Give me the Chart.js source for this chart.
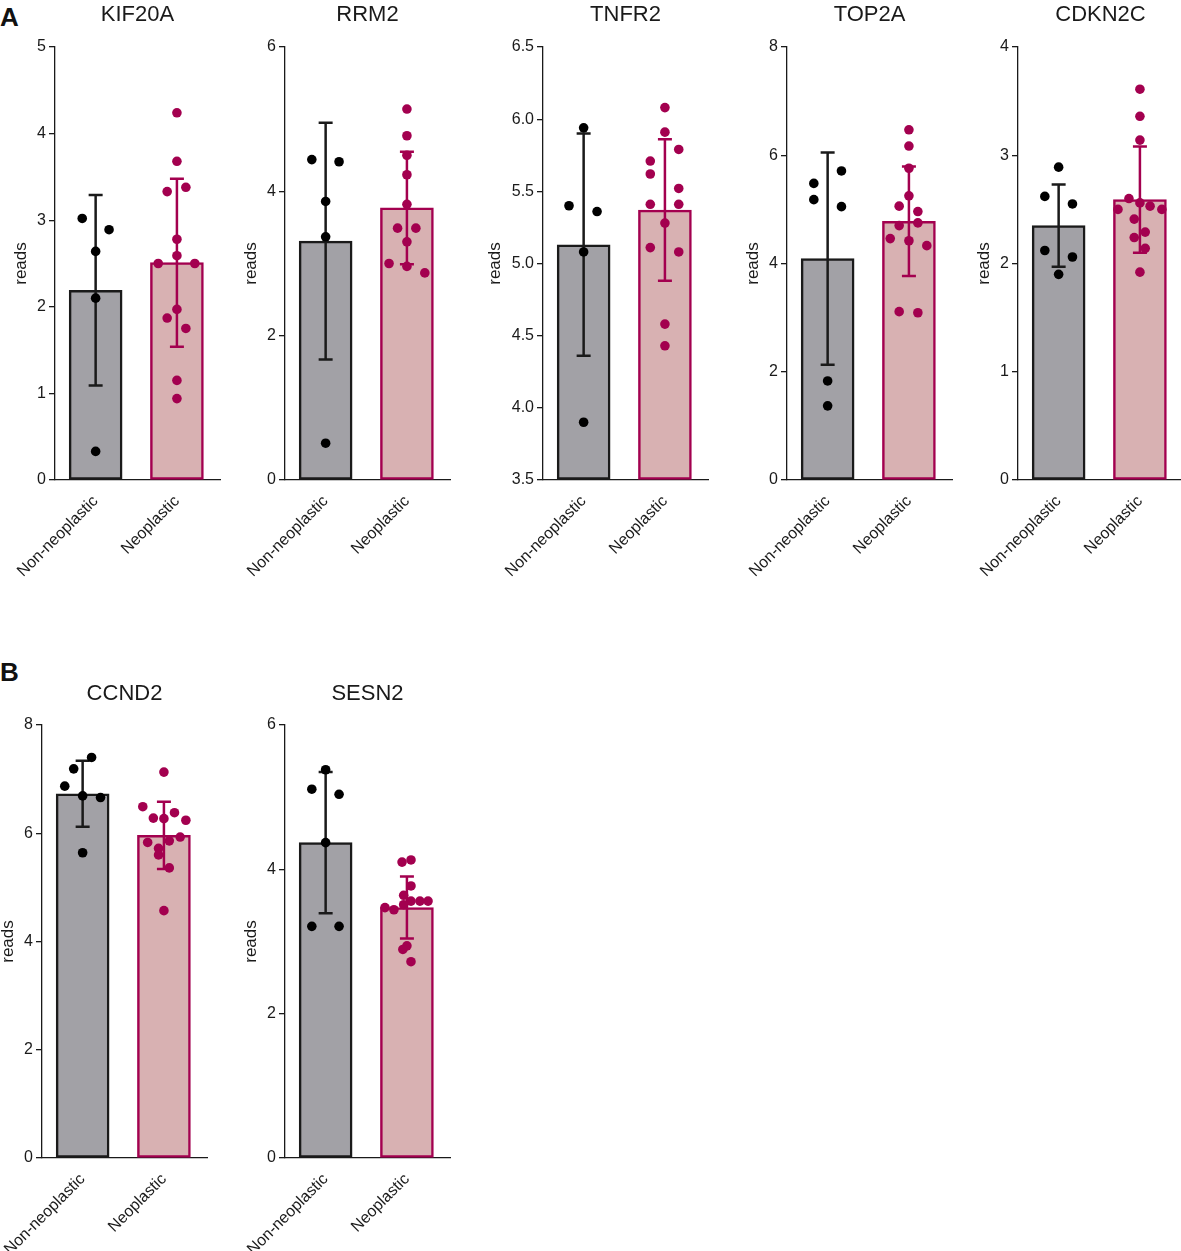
<!DOCTYPE html>
<html>
<head>
<meta charset="utf-8">
<script src="https://cdn.jsdelivr.net/npm/chart.js@4.4.1/dist/chart.umd.min.js"></script>
<style>
  body { margin: 0; background: #fff; width: 1181px; height: 1251px; position: relative; overflow: hidden;
         font-family: 'Liberation Sans', Arial, sans-serif; }
  canvas { position: absolute; }
  .tag { position: absolute; font-weight: bold; font-size: 26px; line-height: 26px; color: #111; }
</style>
</head>
<body>
<div class="tag" style="left:0px;top:4px">A</div>
<div class="tag" style="left:0px;top:659px">B</div>
<script>
// ---- data ----
const groups = ['Non-neoplastic', 'Neoplastic'];
const genes = ['KIF20A', 'RRM2', 'TNFR2', 'TOP2A', 'CDKN2C', 'CCND2', 'SESN2'];

// bar heights (group means) and standard deviations
const meanKIF20A = [2.19, 2.51], sdKIF20A = [1.10, 0.97];
const meanRRM2   = [3.31, 3.77], sdRRM2   = [1.64, 0.78];
const meanTNFR2  = [5.13, 5.37], sdTNFR2  = [0.77, 0.49];
const meanTOP2A  = [4.09, 4.78], sdTOP2A  = [1.96, 1.01];
const meanCDKN2C = [2.35, 2.59], sdCDKN2C = [0.38, 0.49];
const meanCCND2  = [6.73, 5.96], sdCCND2  = [0.61, 0.62];
const meanSESN2  = [4.37, 3.47], sdSESN2  = [0.98, 0.43];

// single samples, non-neoplastic group
const nonKIF20A = [3.02, 2.89, 2.64, 2.10, 0.33];
const nonRRM2   = [4.44, 4.41, 3.86, 3.37, 0.51];
const nonTNFR2  = [5.94, 5.40, 5.36, 5.08, 3.90];
const nonTOP2A  = [5.71, 5.48, 5.18, 5.05, 1.83, 1.37];
const nonCDKN2C = [2.89, 2.62, 2.55, 2.12, 2.06, 1.90];
const nonCCND2  = [7.40, 7.19, 6.87, 6.69, 6.66, 5.64];
const nonSESN2  = [5.38, 5.11, 5.04, 4.37, 3.21, 3.21];

// single samples, neoplastic group
const neoKIF20A = [4.24, 3.68, 3.38, 3.33, 2.78, 2.59, 2.50, 2.50, 1.97, 1.87, 1.75, 1.15, 0.94];
const neoRRM2   = [5.14, 4.77, 4.50, 4.23, 3.82, 3.49, 3.49, 3.30, 3.00, 2.96, 2.87];
const neoTNFR2  = [6.08, 5.91, 5.79, 5.71, 5.62, 5.52, 5.41, 5.41, 5.28, 5.11, 5.08, 4.58, 4.43];
const neoTOP2A  = [6.47, 6.17, 5.76, 5.25, 5.06, 4.96, 4.75, 4.70, 4.46, 4.42, 4.33, 3.11, 3.09];
const neoCDKN2C = [3.61, 3.36, 3.14, 2.60, 2.56, 2.53, 2.50, 2.50, 2.41, 2.29, 2.24, 2.14, 1.92];
const neoCCND2  = [7.13, 6.49, 6.38, 6.28, 6.27, 6.24, 5.93, 5.86, 5.83, 5.72, 5.60, 5.36, 4.57];
const neoSESN2  = [4.13, 4.10, 3.77, 3.64, 3.56, 3.56, 3.56, 3.51, 3.47, 3.44, 2.94, 2.89, 2.72];

// swarm lane of each dot, in category units away from its bar centre
const nonLaneKIF20A = [-0.165, 0.165, 0, 0, 0];
const nonLaneRRM2   = [-0.17, 0.165, 0, 0, 0];
const nonLaneTNFR2  = [0, -0.18, 0.165, 0, 0];
const nonLaneTOP2A  = [0.17, -0.17, -0.17, 0.17, 0, 0];
const nonLaneCDKN2C = [0, -0.17, 0.17, -0.17, 0.17, 0];
const nonLaneCCND2  = [0.11, -0.11, -0.22, 0, 0.22, 0];
const nonLaneSESN2  = [0, -0.17, 0.165, 0, -0.17, 0.165];

const neoLaneKIF20A = [0, 0, 0.11, -0.12, 0, 0, -0.23, 0.22, 0, -0.12, 0.11, 0, 0];
const neoLaneRRM2   = [0, 0, 0, 0, 0, -0.115, 0.11, 0, -0.22, 0, 0.22];
const neoLaneTNFR2  = [0, 0, 0.17, -0.18, -0.18, 0.17, -0.18, 0.17, 0, -0.18, 0.17, 0, 0];
const neoLaneTOP2A  = [0, 0, 0, 0, -0.12, 0.11, 0.11, -0.12, -0.23, 0, 0.22, -0.12, 0.11];
const neoLaneCDKN2C = [0, 0, 0, -0.135, 0, 0.125, -0.27, 0.27, -0.07, 0.065, -0.07, 0.065, 0];
const neoLaneCCND2  = [0, -0.26, 0.13, -0.13, 0, 0.27, 0.2, 0.066, -0.2, -0.066, -0.066, 0.066, 0];
const neoLaneSESN2  = [0.05, -0.06, 0.05, -0.04, 0.05, 0.16, 0.26, -0.04, -0.27, -0.16, 0, -0.05, 0.05];

// y axis ranges and tick steps
const yMin  = [0, 0, 3.5, 0, 0, 0, 0];
const yMax  = [5, 6, 6.5, 8, 4, 8, 6];
const yStep = [1, 2, 0.5, 2, 1, 2, 2];

const means = [meanKIF20A, meanRRM2, meanTNFR2, meanTOP2A, meanCDKN2C, meanCCND2, meanSESN2];
const sds   = [sdKIF20A, sdRRM2, sdTNFR2, sdTOP2A, sdCDKN2C, sdCCND2, sdSESN2];
const nons  = [nonKIF20A, nonRRM2, nonTNFR2, nonTOP2A, nonCDKN2C, nonCCND2, nonSESN2];
const neos  = [neoKIF20A, neoRRM2, neoTNFR2, neoTOP2A, neoCDKN2C, neoCCND2, neoSESN2];
const nonLanes = [nonLaneKIF20A, nonLaneRRM2, nonLaneTNFR2, nonLaneTOP2A, nonLaneCDKN2C, nonLaneCCND2, nonLaneSESN2];
const neoLanes = [neoLaneKIF20A, neoLaneRRM2, neoLaneTNFR2, neoLaneTOP2A, neoLaneCDKN2C, neoLaneCCND2, neoLaneSESN2];

// ---- look ----
const FONT = "'Liberation Sans', Arial, sans-serif";
const INK = '#1a1a1a';
const GREY = '#a2a1a6', PINK = '#d8b1b2', WINE = '#a3004f';
const YW = 55;   // room left of each y axis line for ticks and the axis title

// where each panel's y axis sits on the page
const axisX = [55, 285, 543, 787, 1018, 42, 285];
const panelRow = [0, 0, 0, 0, 0, 1, 1];
const rows = [
  {top: 0,   h: 580, plotTop: 47, xh: 100, titleY: 21},
  {top: 660, h: 591, plotTop: 65, xh: 93,  titleY: 40}
];
const dottedBase = [false, true, false, false, false, true, true];

function decor(i) {
  const R = rows[panelRow[i]];
  return {
    id: 'decor' + i,
    afterDatasetDraw(chart, args) {
      if (args.meta.type !== 'bar') return;
      const {ctx, scales: {x, y}} = chart;
      ctx.save();
      ctx.lineWidth = 2.5;
      means[i].forEach((m, k) => {
        const cx = x.getPixelForValue(k);
        const hi = y.getPixelForValue(m + sds[i][k]);
        const lo = y.getPixelForValue(m - sds[i][k]);
        ctx.strokeStyle = k ? WINE : INK;
        ctx.beginPath();
        ctx.moveTo(cx, hi); ctx.lineTo(cx, lo);
        ctx.moveTo(cx - 7, hi); ctx.lineTo(cx + 7, hi);
        ctx.moveTo(cx - 7, lo); ctx.lineTo(cx + 7, lo);
        ctx.stroke();
      });
      ctx.restore();
    },
    afterDraw(chart) {
      const {ctx, chartArea: a, scales: {y}} = chart;
      ctx.save();
      ctx.fillStyle = INK;
      ctx.font = '22px ' + FONT;
      ctx.textAlign = 'center';
      ctx.textBaseline = 'alphabetic';
      ctx.fillText(genes[i], (a.left + a.right) / 2, R.titleY);

      ctx.font = '16px ' + FONT;
      const widest = Math.max(...y.ticks.map(t => ctx.measureText(String(t.label)).width));
      ctx.font = '17px ' + FONT;
      ctx.translate(a.left - 9 - widest - 16, (a.top + a.bottom) / 2);
      ctx.rotate(-Math.PI / 2);
      ctx.textBaseline = 'middle';
      ctx.fillText('reads', 0, 0);
      ctx.restore();
    }
  };
}

genes.forEach((gene, i) => {
  const R = rows[panelRow[i]];
  const w = YW + 171;
  const cv = document.createElement('canvas');
  cv.width = w; cv.height = R.h;
  cv.style.left = (axisX[i] - YW) + 'px';
  cv.style.top = R.top + 'px';
  cv.style.width = w + 'px'; cv.style.height = R.h + 'px';
  document.body.appendChild(cv);

  new Chart(cv, {
    type: 'bar',
    data: {
      datasets: [
        {
          type: 'bar',
          data: means[i].map((m, k) => ({x: k, y: m})),
          base: yMin[i],
          backgroundColor: [GREY, PINK],
          borderColor: [INK, WINE],
          borderWidth: 2.5,
          borderSkipped: false,
          barThickness: 53,
          order: 3
        },
        {
          type: 'scatter',
          data: nons[i].map((v, k) => ({x: nonLanes[i][k], y: v})),
          pointRadius: 4.8,
          pointBackgroundColor: '#000',
          pointBorderWidth: 0,
          order: 2
        },
        {
          type: 'scatter',
          data: neos[i].map((v, k) => ({x: 1 + neoLanes[i][k], y: v})),
          pointRadius: 4.8,
          pointBackgroundColor: WINE,
          pointBorderWidth: 0,
          order: 1
        }
      ]
    },
    options: {
      responsive: false,
      animation: false,
      events: [],
      layout: {padding: {left: 0, right: 6, top: R.plotTop, bottom: 0}},
      plugins: {legend: {display: false}, tooltip: {enabled: false}},
      scales: {
        x: {
          type: 'linear',
          offset: false,
          min: -0.5,
          max: 1.53,
          afterBuildTicks: s => { s.ticks = [{value: 0}, {value: 1}]; },
          afterFit: s => { s.height = R.xh; },
          grid: {display: false},
          border: {display: true, color: INK, width: 1.3, dash: dottedBase[i] ? [2, 2] : []},
          ticks: {
            autoSkip: false, minRotation: 45, maxRotation: 45, padding: 4,
            color: INK, font: {family: FONT, size: 16},
            callback: v => groups[v]
          }
        },
        y: {
          min: yMin[i],
          max: yMax[i],
          afterFit: s => { s.width = YW; },
          grid: {display: true, drawOnChartArea: false, drawTicks: true, tickLength: 6, color: INK, lineWidth: 1.3},
          border: {display: true, color: INK, width: 1.3},
          ticks: {
            stepSize: yStep[i], padding: 3, color: INK, font: {family: FONT, size: 16},
            callback: v => yStep[i] < 1 ? v.toFixed(1) : v
          }
        }
      }
    },
    plugins: [decor(i)]
  });
});
</script>
</body>
</html>
